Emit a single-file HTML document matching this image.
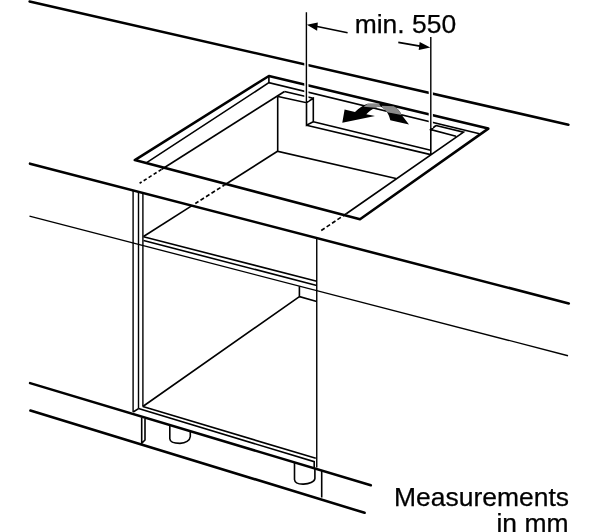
<!DOCTYPE html>
<html><head><meta charset="utf-8"><title>Measurements in mm</title>
<style>
html,body{margin:0;padding:0;background:#fff;}
body{width:600px;height:532px;overflow:hidden;}
svg{display:block;opacity:0.999;will-change:transform;}
text{font-family:"Liberation Sans",Arial,Helvetica,sans-serif;fill:#000;stroke:#000;stroke-width:0.25;}
.k{stroke:#000;stroke-width:2.55;fill:none;stroke-linecap:butt;stroke-linejoin:miter;}
.t{stroke:#000;stroke-width:1.6;fill:none;stroke-linecap:butt;stroke-linejoin:miter;}
.d{stroke:#000;stroke-width:1.6;fill:none;stroke-dasharray:4.1 2.4;}
.h{stroke:#fff;stroke-width:4.2;fill:none;}
</style></head>
<body>
<svg width="600" height="532" viewBox="0 0 600 532">
<rect width="600" height="532" fill="#fff"/>

<!-- thin construction lines -->
<g class="t">
<!-- worktop lower front edge -->
<path stroke-width="1.3" d="M29.5 216.1L568 355.75"/>
<!-- cabinet left verticals -->
<path stroke-width="1.4" d="M133.1 190V412M138.5 191.5V408.6M142.9 193V406.5"/>
<!-- cabinet right vertical -->
<path stroke-width="1.4" d="M316.75 238V467.5"/>
<!-- top rail -->
<path d="M143.5 236.8L316.75 281.25M143.5 240.5L316.75 285.5"/>
<!-- interior diagonals -->
<path d="M192 205.6L143.5 236.5"/>
<path d="M224.5 185L277.5 151.3"/>
<path d="M161.8 169.2L284.5 91.5"/>
<!-- rebate -->
<path d="M146.25 162.8L268.9 82.7L479.5 133.8M268.9 76V82.7"/>
<!-- back wall -->
<path d="M284.5 91.5L313.3 98.3M278 96.5L306.5 102.7L313.3 98.3V121.8L306.5 125.3V102.7M306.5 125.3L430.7 154.6M313.3 121.8L430.7 150.2"/>
<path d="M436 125.5L463.5 132.1L346.25 213.75M436 125.5L430.8 129.6L456 136.3M430.8 129.6V154.5"/>
<path d="M277.7 96.5V151.25L396 178.5"/>
<!-- lower cabinet -->
<path d="M299.4 286.25V296.6L316.75 301.5M299.4 296.6L142.8 406.5"/>
<path d="M142.8 406.5L315.8 458.3M138.5 408.6L314.2 461.7V467.5M133.2 412L138.5 408.6"/>
<!-- plinth -->
<path d="M141.7 417.5V443.3L145 440V418.5"/>
<path d="M321.7 470.8V497.5"/>
<!-- legs -->
<path d="M169.8 425V438.8C170 442.2 174 443.4 180 443.4C185.5 443.4 190 440.5 190.3 436.5V431"/>
<path d="M294.5 463V479.5C294.8 483.2 298.5 484.2 303.5 484.1C309 484 314.6 482 314.9 478.5V468"/>
</g>
<!-- dashed -->
<path class="d" style="stroke-dasharray:3.5 2.4;stroke-dashoffset:1.1" d="M139.6 183.3L162 169.1"/>
<path class="d" style="stroke-dashoffset:1.7" d="M224.5 185L195.3 203.5"/>
<path class="d" d="M346.25 213.75L321.25 230.5"/>

<!-- thick lines -->
<g class="k" style="stroke-linecap:round">
<path d="M29.6 1.45L568.4 124.75"/>
<path stroke-linejoin="round" d="M134.8 160.1L268.9 76L488.3 128.6L360 219.25Z"/>
<path d="M30 163.65L568.8 303.45"/>
<path d="M30.1 383.1L370.8 485.3"/>
<path d="M30.4 410.5L364.6 512.8"/>
</g>

<!-- airflow arrow -->
<path fill="#000" d="M342.3 122.7L344.6 109.4L355 112C359 108 363 105 367.7 103.7L379 103.7C385 104 390 105 393.7 106.3C397 108 400 111 401.7 115L409 124.6L390.3 120.3C389.5 117 388.5 114.5 387 112.3C385.5 110 384 108.5 381 106.7C379 106.5 377 107 375 107.7C371.5 109.5 368.5 112 366.3 114.3L375 116Z"/>
<path fill="#8a8a8a" d="M367.7 103.7L379 103.7L381 106.7C379 106.5 377 107 375 107.7L363.7 106.7Z"/>
<path fill="#8a8a8a" d="M381.7 105.7L393.7 106.3C397 108 400 111 401.7 115L387 112.3C385.5 110 384 108.5 382.3 107.7Z"/>

<!-- dimension lines -->
<path class="h" d="M306.4 14V101M430.8 39V128"/>
<g class="t">
<path stroke-width="1.4" d="M306.4 12.2V103M430.8 37V131"/>
<path d="M316 26.3L347.6 32.7M398.3 42.4L420 46.1"/>
</g>
<path fill="#000" d="M306.9 24.7L317.8 22.5L317.1 30.7Z"/>
<path fill="#000" d="M430.3 47.5L419.7 41.9L418.7 50Z"/>

<g>
<text id="t1" x="354.7" y="33.3" font-size="26.45">min. 550</text>
<text id="t2" x="394.1" y="505.7" font-size="26.45">Measurements</text>
<text id="t3" x="496.5" y="532.4" font-size="26.45">in mm</text>
</g>
</svg>
</body></html>
